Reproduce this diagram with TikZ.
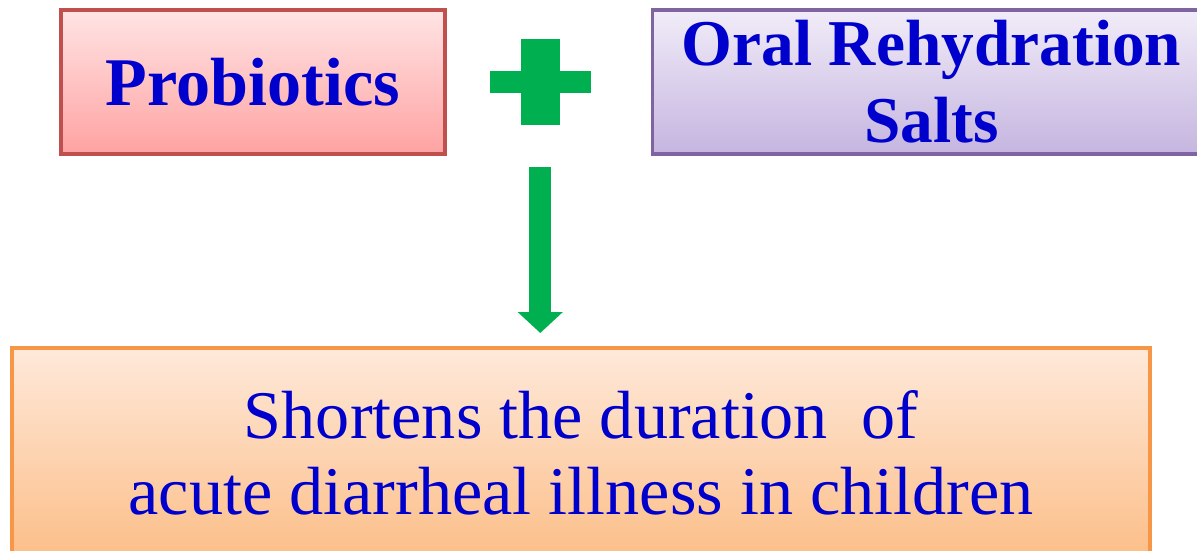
\documentclass[tikz,border=0pt]{standalone}
\usepackage{fontspec}
\setmainfont{Liberation Serif}
\usepackage{tikz}
\usetikzlibrary{positioning, arrows.meta}
\definecolor{txtblue}{HTML}{0000CC}
\definecolor{grn}{HTML}{00B050}
\definecolor{redline}{HTML}{C0504D}
\definecolor{redtop}{HTML}{FFE4E4}
\definecolor{redbot}{HTML}{FFA2A2}
\definecolor{purpline}{HTML}{8064A2}
\definecolor{purptop}{HTML}{F1ECF8}
\definecolor{purpbot}{HTML}{C5B5E0}
\definecolor{orgline}{HTML}{F79646}
\definecolor{orgtop}{HTML}{FEE9DA}
\definecolor{orgbot}{HTML}{FCBE88}
\tikzset{box node/.style={draw, line width=1pt, inner sep=0pt, align=center, text=txtblue},}

\begin{document}
\begin{tikzpicture}[thick]
        \useasboundingbox (0,0) rectangle (11.97,5.50);
        \clip (0,0) rectangle (11.97,5.50);
        % Top boxes
        \node[box node, draw=redline, top color=redtop, bottom color=redbot, minimum width=3.84cm, minimum height=1.44cm, font=\fontsize{19.4}{22}\selectfont\bfseries] (pro) at (2.53,4.68) {Probiotics};
        \node[inner sep=0pt, outer sep=0pt, minimum width=1.01cm, minimum height=0.86cm] [right = 0.43cm of pro] (plus) {};
        \node[box node, draw=purpline, top color=purptop, bottom color=purpbot, minimum width=5.58cm, minimum height=1.44cm, font=\fontsize{18.6}{21.9}\selectfont\bfseries] [right = 0.60cm of plus] (ors) {Oral Rehydration\\Salts};
        % Result box
        \node[box node, draw=orgline, top color=orgtop, bottom color=orgbot, minimum width=11.38cm, minimum height=2.11cm, font=\fontsize{19.4}{21.6}\selectfont, anchor=north] (out) at (5.81,2.04) {Shortens the duration\ \ of\\acute diarrheal illness in children};
        % Plus sign
        \fill[grn] ([xshift=-0.195cm]plus.north) rectangle ([xshift=0.195cm]plus.south);
        \fill[grn] ([yshift=0.11cm]plus.west) rectangle ([yshift=-0.11cm]plus.east);
        % Arrow
        \draw[grn, line width=0.22cm, -{Triangle[width=0.44cm, length=0.21cm]}] ([yshift=-0.42cm]plus.south) -- ([yshift=0.13cm]plus.south |- out.north);
    \end{tikzpicture}
\end{document}
